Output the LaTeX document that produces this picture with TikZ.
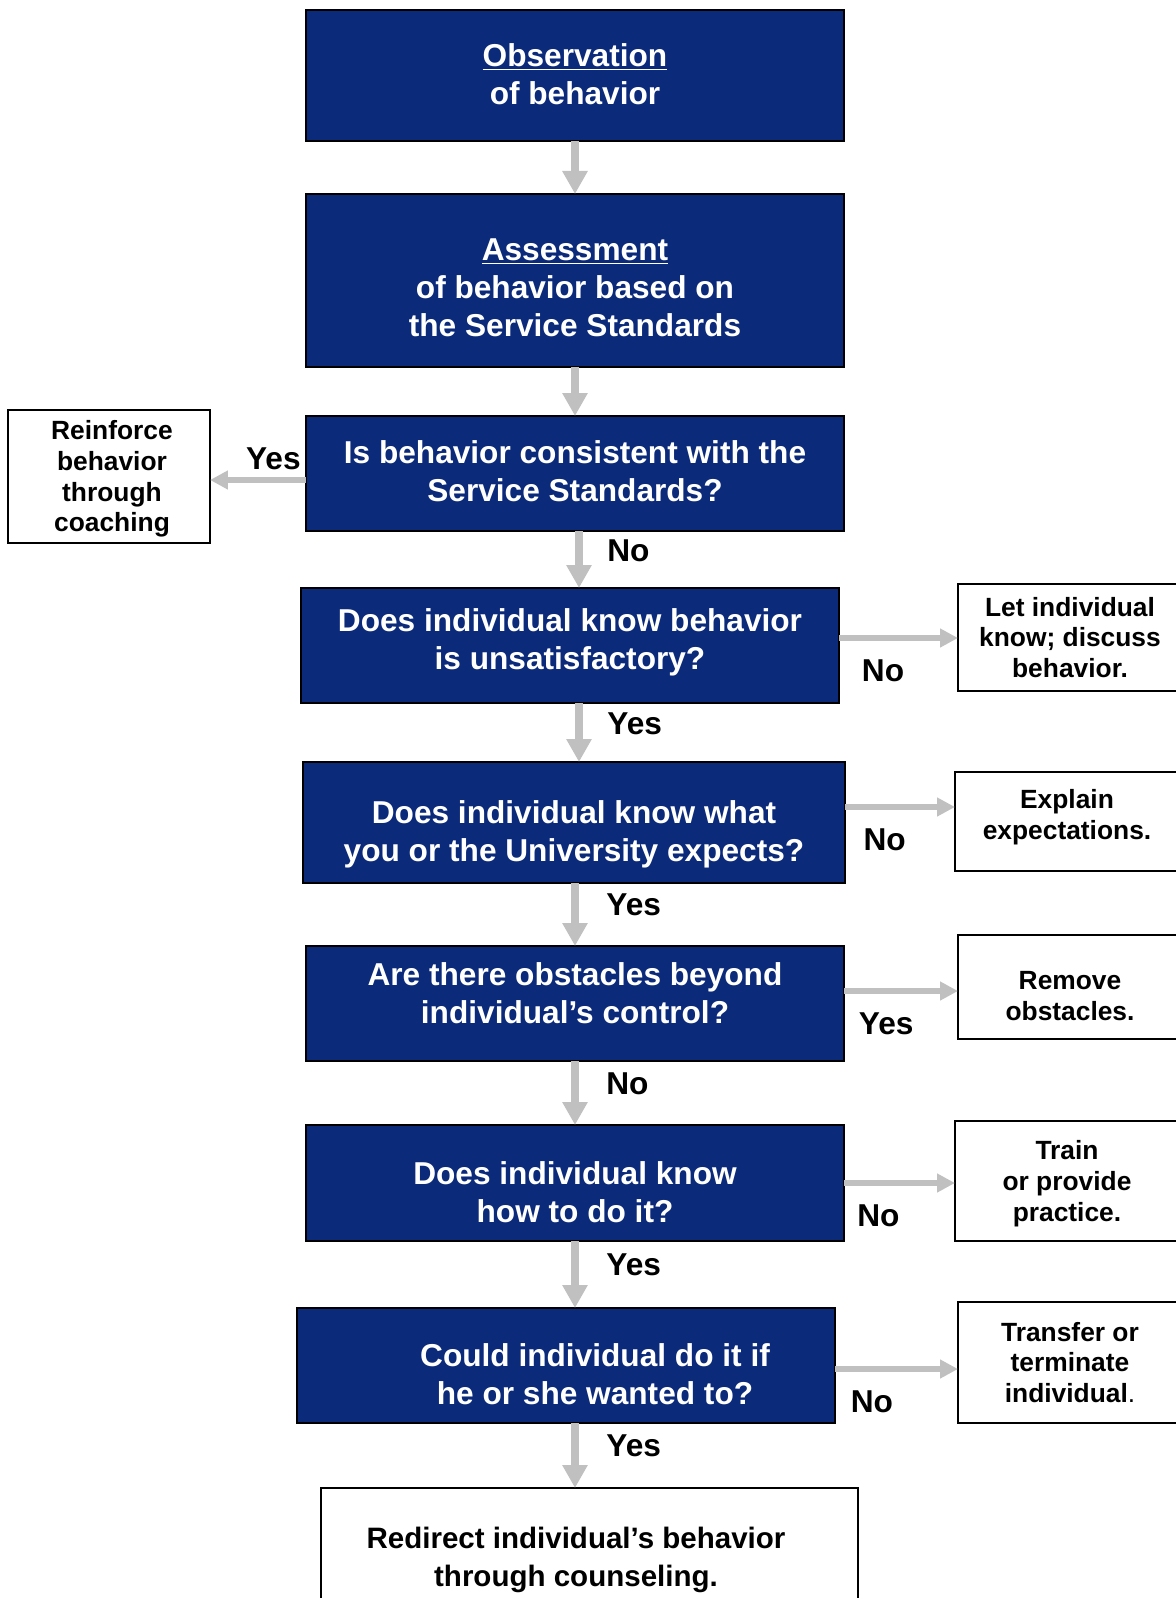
\documentclass[tikz,border=0pt]{standalone}
\usepackage{fontspec}
\setmainfont{Liberation Sans}
\usepackage{xcolor}
\usepackage{tikz}
\usetikzlibrary{arrows.meta}
\usetikzlibrary{positioning}

\definecolor{boxblue}{RGB}{12,42,122}
\definecolor{arrowgray}{RGB}{192,192,192}

% lines of a box, raised by the optional amount
\newcommand{\btext}[2][0pt]{\raisebox{\dimexpr#1-0.36em\relax}[0pt][0pt]{\begin{tabular}{c}#2\end{tabular}}}

\begin{document}
\begin{tikzpicture}[node distance=1cm, thick]
    \tikzstyle{question}=[rectangle, draw=black, line width=1.2pt, fill=boxblue, text=white, font=\bfseries\fontsize{18}{21.6}\selectfont, minimum width=10.76cm, inner sep=0pt, outer sep=0pt]
    \tikzstyle{action}=[rectangle, draw=black, line width=1.2pt, fill=white, font=\bfseries\fontsize{15}{17.5}\selectfont, minimum width=4.48cm, inner sep=0pt, outer sep=0pt]
    \tikzstyle{down}=[draw=arrowgray, line width=5pt, -{Triangle[length=0.46cm,width=0.48cm]}]
    \tikzstyle{side}=[draw=arrowgray, line width=3.4pt, -{Triangle[length=0.36cm,width=0.36cm]}]
    \tikzstyle{answer}=[font=\bfseries\fontsize{18}{21.6}\selectfont, inner sep=0pt]

    \useasboundingbox (-11.5,1.51) rectangle (12.0,-30.45);

    \node[question, minimum height=2.62cm] (observation) at (0,0) {\btext[0.85pt]{\underline{Observation}\\of behavior}};
    \node[question, minimum height=3.46cm] (assessment) [below=1.06cm of observation] {\btext[-4pt]{\underline{Assessment}\\of behavior based on\\the Service Standards}};
    \node[question, minimum height=2.3cm] (consistent) [below=0.98cm of assessment] {\btext[1.4pt]{Is behavior consistent with the\\Service Standards?}};
    \node[question, minimum height=2.3cm] (knows) [below=1.14cm of consistent, xshift=-0.1cm] {\btext[3.7pt]{Does individual know behavior\\is unsatisfactory?}};
    \node[question, minimum height=2.42cm, minimum width=10.84cm] (expects) [below=1.18cm of knows, xshift=0.08cm] {\btext[-4.8pt]{Does individual know what\\you or the University expects?}};
    \node[question, minimum height=2.3cm] (obstacles) [below=1.26cm of expects, xshift=0.02cm] {\btext[6pt]{Are there obstacles beyond\\individual’s control?}};
    \node[question, minimum height=2.32cm] (howto) [below=1.28cm of obstacles] {\btext[-5.1pt]{Does individual know\\how to do it?}};
    \node[question, minimum height=2.3cm] (wanted) [below=1.34cm of howto, xshift=-0.18cm] {\hspace*{1.16cm}\btext[-4.8pt]{Could individual do it if\\he or she wanted to?}};
    \node[action, minimum width=10.74cm, minimum height=2.76cm, font=\bfseries\fontsize{16.8}{21.4}\selectfont] (redirect) [below=1.3cm of wanted, xshift=0.47cm] {\btext{Redirect individual’s behavior\\through counseling.}\hspace*{0.54cm}};

    \node[action, minimum width=4.04cm, minimum height=2.66cm] (reinforce) [left=1.92cm of consistent, yshift=-0.06cm] {\hspace*{0.12cm}\btext{Reinforce\\behavior\\through\\coaching}};
    \node[action, minimum height=2.14cm] (discuss) [right=2.38cm of knows, yshift=0.16cm] {\btext{Let individual\\know; discuss\\behavior.}};
    \node[action, minimum height=1.98cm] (explain) [right=2.2cm of expects, yshift=0.02cm] {\btext[3.7pt]{Explain\\expectations.}};
    \node[action, minimum height=2.08cm] (remove) [right=2.28cm of obstacles, yshift=0.33cm] {\btext[-5.1pt]{Remove\\obstacles.}};
    \node[action, minimum height=2.4cm] (train) [right=2.22cm of howto, yshift=0.04cm] {\btext{Train\\or provide\\practice.}};
    \node[action, minimum height=2.42cm] (transfer) [right=2.46cm of wanted, yshift=0.06cm] {\btext{Transfer or\\terminate\\individual{\mdseries .}}};

    \coordinate (offline) at ([xshift=0.08cm]observation.center);
    \coordinate (consistentout) at ([yshift=-0.13cm]consistent.west);
    \coordinate (knowsout) at ([yshift=0.15cm]knows.east);
    \coordinate (expectsout) at ([yshift=0.31cm]expects.east);
    \coordinate (obstaclesout) at ([yshift=0.25cm]obstacles.east);
    \coordinate (howtoout) at (howto.east);
    \coordinate (wantedout) at ([yshift=-0.07cm]wanted.east);

    \path
    (observation) edge [down] (assessment)
    (assessment)  edge [down] (consistent)
    (consistent.south -| offline) edge [down] node[answer, right=0.48cm, pos=0.35] {No} (knows.north -| offline)
    (knows.south -| offline) edge [down] node[answer, right=0.48cm, pos=0.35] {Yes} (expects.north -| offline)
    (expects.south -| observation) edge [down] node[answer, right=0.54cm, pos=0.35] {Yes} (obstacles.north -| observation)
    (obstacles.south -| observation) edge [down] node[answer, right=0.54cm, pos=0.35] {No} (howto.north -| observation)
    (howto.south -| observation) edge [down] node[answer, right=0.54cm, pos=0.35] {Yes} (wanted.north -| observation)
    (wanted.south -| observation) edge [down] node[answer, right=0.54cm, pos=0.35] {Yes} (redirect.north -| observation);

    \path
    (consistentout) edge [side] node[answer, above=4pt, pos=0.34] {Yes} (consistentout -| reinforce.east)
    (knowsout)      edge [side] node[answer, below=10.5pt, pos=0.37] {No} (knowsout -| discuss.west)
    (expectsout)    edge [side] node[answer, below=10.5pt, pos=0.36] {No} (expectsout -| explain.west)
    (obstaclesout)  edge [side] node[answer, below=10.5pt, pos=0.37] {Yes} (obstaclesout -| remove.west)
    (howtoout)      edge [side] node[answer, below=10.5pt, pos=0.31] {No} (howtoout -| train.west)
    (wantedout)     edge [side] node[answer, below=10.5pt, pos=0.3] {No} (wantedout -| transfer.west);

\end{tikzpicture}
\end{document}
